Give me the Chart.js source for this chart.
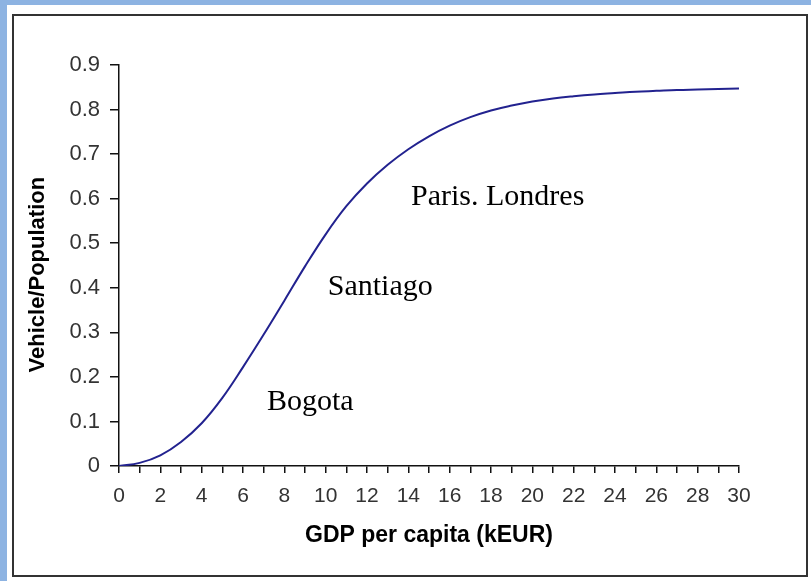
<!DOCTYPE html>
<html lang="en">
<head>
    <title>Vehicle ownership vs GDP</title>
    <script src="https://cdn.jsdelivr.net/npm/chart.js"></script>
    <style>
        body { margin: 0; background: #fff; }
        #wrap { width: 811px; height: 581px; position: relative; }
    </style>
</head>
<body>
    <div id="wrap"><canvas id="ownershipChart"></canvas></div>
    <script>
        // GDP per capita (kEUR) and vehicles per inhabitant
        const gdp = [0, 1, 2, 3, 4, 5, 6, 7, 8, 9, 10, 11, 12, 13, 14, 15,
                     16, 17, 18, 19, 20, 21, 22, 23, 24, 25, 26, 27, 28, 29, 30];
        const vehicles = [0, 0.007, 0.024, 0.054, 0.096, 0.153, 0.222, 0.295, 0.371, 0.448, 0.52,
                          0.583, 0.634, 0.676, 0.711, 0.74, 0.764, 0.783, 0.798, 0.809, 0.818,
                          0.825, 0.83, 0.834, 0.837, 0.84, 0.842, 0.844, 0.845, 0.846, 0.847];

        // city labels placed in data units (left edge, baseline)
        const cityNames = ['Paris. Londres', 'Santiago', 'Bogota'];
        const cityX = [14.13, 10.1, 7.16];
        const cityY = [0.585, 0.383, 0.126];

        const frame = {
            id: 'frame',
            beforeDraw(chart) {
                const c = chart.ctx;
                c.save();
                c.fillStyle = '#fff';
                c.fillRect(0, 0, chart.width, chart.height);
                c.fillStyle = '#8db3e2';
                c.fillRect(0, 0, chart.width, 5);
                c.fillRect(0, 0, 7, chart.height);
                c.strokeStyle = '#333';
                c.lineWidth = 2;
                c.strokeRect(13, 15, 794, 561);
                c.restore();
            },
            afterDatasetsDraw(chart) {
                const c = chart.ctx;
                const xs = chart.scales.x, ys = chart.scales.y;
                c.save();
                c.font = '30px "Liberation Serif", "Times New Roman", serif';
                c.fillStyle = '#000';
                c.textAlign = 'left';
                c.textBaseline = 'alphabetic';
                cityNames.forEach((name, i) => {
                    c.fillText(name, xs.getPixelForValue(cityX[i]), ys.getPixelForValue(cityY[i]));
                });
                c.restore();
            }
        };

        const ctx = document.getElementById('ownershipChart').getContext('2d');
        new Chart(ctx, {
            type: 'line',
            data: {
                datasets: [{
                    data: gdp.map((g, i) => ({x: g, y: vehicles[i]})),
                    borderColor: '#22228f',
                    borderWidth: 2,
                    pointRadius: 0,
                    fill: false,
                    tension: 0.4
                }]
            },
            options: {
                responsive: true,
                maintainAspectRatio: false,
                animation: false,
                layout: { padding: { left: 20, top: 65, right: 72, bottom: 0 } },
                plugins: { legend: { display: false }, tooltip: { enabled: false } },
                scales: {
                    x: {
                        type: 'linear',
                        min: 0,
                        max: 30,
                        afterFit(scale) { scale.height = 115; },
                        grid: { drawOnChartArea: false, drawTicks: true, tickLength: 7, color: '#111', lineWidth: 1.5 },
                        border: { display: true, color: '#111', width: 1.5 },
                        ticks: {
                            stepSize: 1,
                            autoSkip: false,
                            maxRotation: 0,
                            padding: 11,
                            color: '#333',
                            font: { family: '"Liberation Sans", Arial, sans-serif', size: 21 },
                            callback: v => (v % 2 === 0 ? v : '')
                        },
                        title: {
                            display: true,
                            text: 'GDP per capita (kEUR)',
                            color: '#000',
                            font: { family: '"Liberation Sans", Arial, sans-serif', size: 23, weight: 'bold' },
                            padding: { top: 0, bottom: 32 }
                        }
                    },
                    y: {
                        min: 0,
                        max: 0.9,
                        afterFit(scale) { scale.width = 99; },
                        grid: { drawOnChartArea: false, drawTicks: true, tickLength: 9, color: '#111', lineWidth: 1.5 },
                        border: { display: true, color: '#111', width: 1.5 },
                        ticks: {
                            stepSize: 0.1,
                            padding: 10,
                            color: '#333',
                            font: { family: '"Liberation Sans", Arial, sans-serif', size: 22 },
                            callback: v => String(+v.toFixed(1))
                        },
                        title: {
                            display: true,
                            text: 'Vehicle/Population\u00a0\u00a0\u00a0',
                            color: '#000',
                            font: { family: '"Liberation Sans", Arial, sans-serif', size: 22, weight: 'bold' },
                            padding: { top: 5, bottom: 0 }
                        }
                    }
                }
            },
            plugins: [frame]
        });
    </script>
</body>
</html>
